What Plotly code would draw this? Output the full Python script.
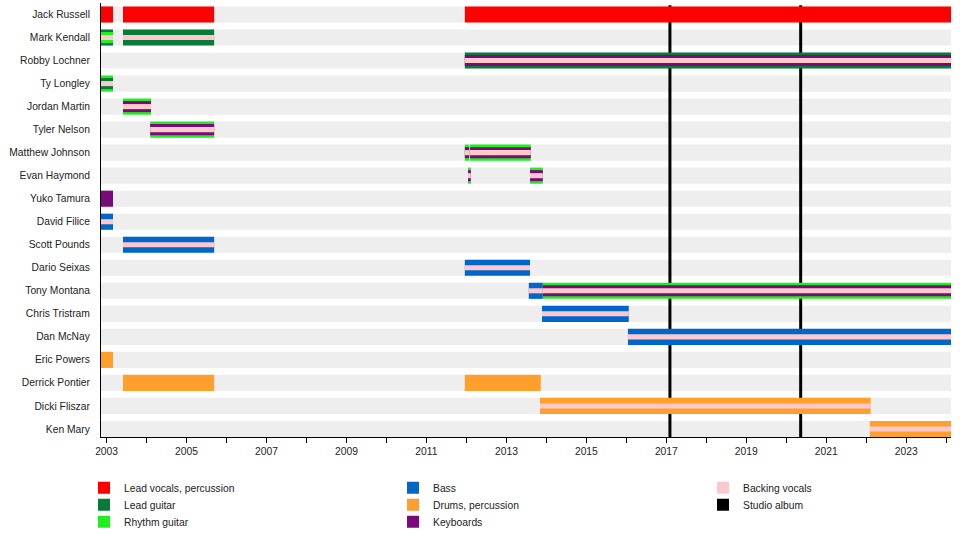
import plotly.graph_objects as go

# rows, top to bottom
members = [
    "Jack Russell", "Mark Kendall", "Robby Lochner", "Ty Longley", "Jordan Martin",
    "Tyler Nelson", "Matthew Johnson", "Evan Haymond", "Yuko Tamura", "David Filice",
    "Scott Pounds", "Dario Seixas", "Tony Montana", "Chris Tristram", "Dan McNay",
    "Eric Powers", "Derrick Pontier", "Dicki Fliszar", "Ken Mary",
]

period_start = 2002.86
period_end = 2024.12

# one entry per spell; roles listed from outer stripe to inner stripe
spell_member = [
    "Jack Russell", "Jack Russell", "Jack Russell",
    "Mark Kendall", "Mark Kendall",
    "Robby Lochner",
    "Ty Longley",
    "Jordan Martin",
    "Tyler Nelson",
    "Matthew Johnson", "Matthew Johnson",
    "Evan Haymond", "Evan Haymond",
    "Yuko Tamura",
    "David Filice",
    "Scott Pounds",
    "Dario Seixas",
    "Tony Montana", "Tony Montana",
    "Chris Tristram",
    "Dan McNay",
    "Eric Powers",
    "Derrick Pontier", "Derrick Pontier",
    "Dicki Fliszar",
    "Ken Mary",
]
spell_start = [
    2002.86, 2003.41, 2011.96,
    2002.86, 2003.41,
    2011.96,
    2002.86,
    2003.41,
    2004.09,
    2011.96, 2012.09,
    2012.04, 2013.59,
    2002.86,
    2002.86,
    2003.41,
    2011.96,
    2013.56, 2013.91,
    2013.89,
    2016.04,
    2002.86,
    2003.41, 2011.96,
    2013.84,
    2022.09,
]
spell_end = [
    2003.16, 2005.69, 2024.12,
    2003.16, 2005.69,
    2024.12,
    2003.16,
    2004.11,
    2005.69,
    2012.07, 2013.61,
    2012.11, 2013.91,
    2003.16,
    2003.16,
    2005.69,
    2013.59,
    2013.91, 2024.12,
    2016.06,
    2024.12,
    2003.16,
    2005.69, 2013.86,
    2022.11,
    2024.12,
]
spell_roles = [
    ["vocals"], ["vocals"], ["vocals"],
    ["lead", "rhythm", "bv"], ["lead", "bv"],
    ["lead", "keys", "bv"],
    ["rhythm", "lead", "bv"],
    ["rhythm", "keys", "bv"],
    ["rhythm", "keys", "bv"],
    ["rhythm", "keys", "bv"], ["rhythm", "keys", "bv"],
    ["rhythm", "keys", "bv"], ["rhythm", "keys", "bv"],
    ["keys"],
    ["bass", "bv"],
    ["bass", "bv"],
    ["bass", "bv"],
    ["bass", "bv"], ["rhythm", "keys", "bv"],
    ["bass", "bv"],
    ["bass", "bv"],
    ["drums"],
    ["drums"], ["drums"],
    ["drums", "bv"],
    ["drums", "bv"],
]

album_dates = [2017.09, 2020.36]

role_names = {
    "vocals": "Lead vocals, percussion",
    "lead": "Lead guitar",
    "rhythm": "Rhythm guitar",
    "bass": "Bass",
    "drums": "Drums, percussion",
    "keys": "Keyboards",
    "bv": "Backing vocals",
}
role_colors = {
    "vocals": "#ff0000",
    "lead": "#0a7a38",
    "rhythm": "#1ef01e",
    "bass": "#0066c8",
    "drums": "#ffa02c",
    "keys": "#7a0a7a",
    "bv": "#ffc8cc",
}

# stripe widths: outer, middle, inner
layer_width = [0.7, 0.48, 0.22]
FONT = "Arial, Liberation Sans, sans-serif"
FS = 10.3

# legend key grid: (column, row) for every entry, one small legend each
legend_cell = {"vocals": (0, 0), "lead": (0, 1), "rhythm": (0, 2),
               "bass": (1, 0), "drums": (1, 1), "keys": (1, 2),
               "bv": (2, 0), "album": (2, 1)}
legend_ids = {k: ("legend" if i == 0 else "legend%d" % (i + 1))
              for i, k in enumerate(legend_cell)}
col_x = [0.0875, 0.4094, 0.7323]
row_y = [0.1186, 0.0869, 0.0553]

row_of = {m: i for i, m in enumerate(members)}


def stripe_layer(pos, n):
    # outer stripe is 0, the innermost of a multi-role spell is 2
    if pos == 0:
        return 0
    if pos == n - 1:
        return 2
    return 1


fig = go.Figure()

# grey band behind every row
for i in range(len(members)):
    fig.add_shape(type="rect", xref="x", yref="y", x0=period_start, x1=period_end,
                  y0=i - 0.35, y1=i + 0.35, fillcolor="#eeeeee", line_width=0, layer="below")

# studio album lines, under the bars
for d in album_dates:
    fig.add_shape(type="line", xref="x", yref="y", x0=d, x1=d, y0=-0.4, y1=18.35,
                  line=dict(color="black", width=3), layer="below")

# one trace per (stripe layer, role) so outer stripes are drawn first
shown = set()
for layer in range(3):
    for role in role_names:
        xs, bases, ys = [], [], []
        for m, s, e, roles in zip(spell_member, spell_start, spell_end, spell_roles):
            for pos, r in enumerate(roles):
                if r == role and stripe_layer(pos, len(roles)) == layer:
                    xs.append(e - s)
                    bases.append(s)
                    ys.append(row_of[m])
        if not xs:
            continue
        fig.add_trace(go.Bar(
            x=xs, base=bases, y=ys, orientation="h",
            width=layer_width[layer],
            marker=dict(color=role_colors[role], line_width=0),
            name=role_names[role],
            legend=legend_ids[role],
            legendgroup=role,
            showlegend=role not in shown,
            hovertemplate="%{base:.2f} - %{x:.2f}<extra>" + role_names[role] + "</extra>",
        ))
        shown.add(role)

# legend entry for the album lines
fig.add_trace(go.Bar(x=[None], y=[None], orientation="h", name="Studio album",
                     marker=dict(color="black", line_width=0),
                     legend=legend_ids["album"]))

legends = {}
for key, (c, r) in legend_cell.items():
    legends[legend_ids[key]] = dict(
        xref="container", yref="container", xanchor="left", yanchor="top",
        x=col_x[c], y=row_y[r], bgcolor="rgba(0,0,0,0)",
        font=dict(family=FONT, size=FS, color="#222"),
        itemclick=False, itemdoubleclick=False,
    )

fig.update_layout(
    width=960, height=537,
    margin=dict(l=101, r=9, t=3, b=100, autoexpand=False),
    barmode="overlay",
    paper_bgcolor="white",
    plot_bgcolor="white",
    font=dict(family=FONT, size=FS, color="#222"),
    showlegend=True,
    **legends,
)
fig.update_xaxes(
    range=[period_start, period_end], tick0=2003, dtick=2, tickformat="d",
    ticks="outside", ticklen=5, tickcolor="black",
    minor=dict(dtick=1, ticks="outside", ticklen=5, tickcolor="black"),
    showline=True, linecolor="black", linewidth=1, showgrid=False, zeroline=False,
    fixedrange=True, automargin=False,
)
fig.update_yaxes(
    range=[18.35, -0.5], tickvals=list(range(len(members))), ticktext=members,
    ticks="", ticklabelstandoff=8,
    showline=True, linecolor="black", linewidth=1, showgrid=False, zeroline=False,
    fixedrange=True, automargin=False,
)

# the page's default body margin would shift the chart by 8px
fig.write_html("out.html", config={"displayModeBar": False},
               post_script="document.body.style.margin='0';")
